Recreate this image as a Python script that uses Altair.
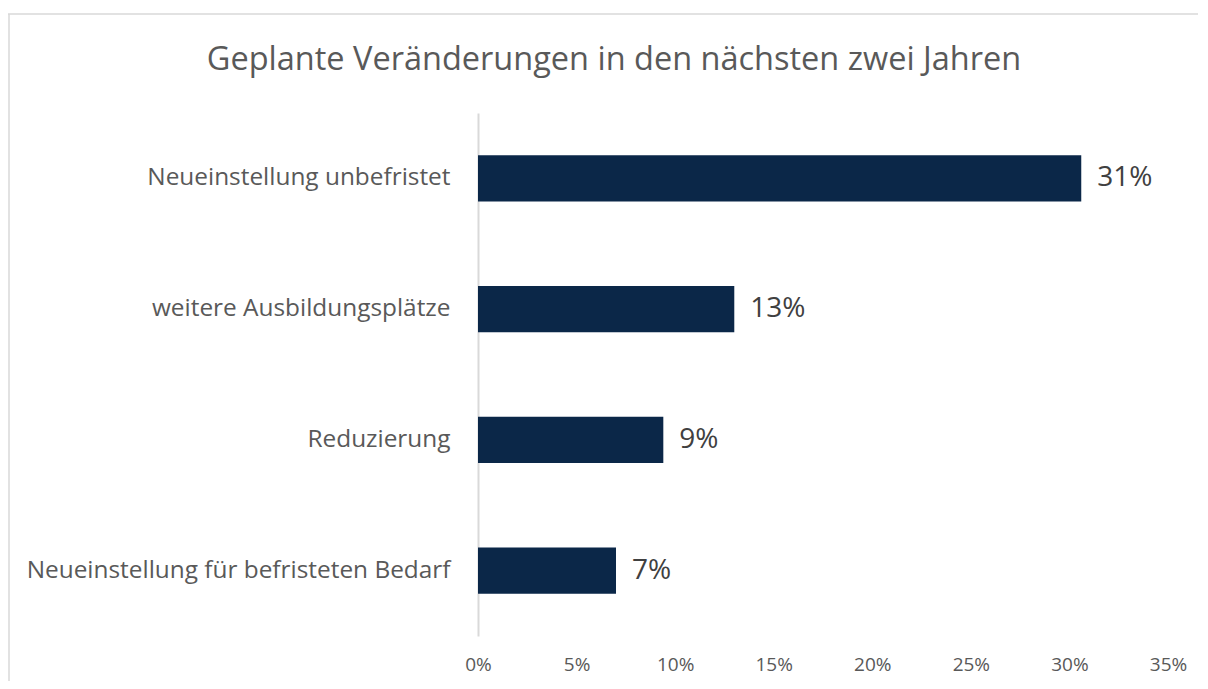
import altair as alt
import pandas as pd

categories = [
    "Neueinstellung unbefristet",
    "weitere Ausbildungsplätze",
    "Reduzierung",
    "Neueinstellung für befristeten Bedarf",
]
values = [0.306, 0.130, 0.094, 0.070]
title_text = ["Geplante Veränderungen in den nächsten zwei Jahren"]
x_ticks = [0, 0.05, 0.10, 0.15, 0.20, 0.25, 0.30, 0.35]

df = pd.DataFrame({"cat": categories, "val": values})
tdf = pd.DataFrame({"t": title_text})

FONT = "Open Sans"
W, H = 690, 523

x_enc = alt.X(
    "val:Q",
    scale=alt.Scale(domain=[0, 0.35], nice=False, zero=True),
    axis=alt.Axis(
        values=x_ticks, format=".0%", title=None, domain=False, ticks=False,
        grid=False, labelFontSize=19, labelColor="#595959", labelFont=FONT,
        labelPadding=19, labelFlush=False,
    ),
)
y_enc = alt.Y(
    "cat:N",
    sort=categories,
    scale=alt.Scale(paddingInner=0.648, paddingOuter=0.324),
    axis=alt.Axis(
        title=None, ticks=False, domain=True, domainColor="#d9d9d9",
        domainWidth=2, labelFontSize=24.4, labelColor="#595959", labelFont=FONT,
        labelPadding=28, labelLimit=600,
    ),
)

bars = alt.Chart(df).mark_bar(color="#0b2748").encode(x=x_enc, y=y_enc)
labels = alt.Chart(df).mark_text(
    align="left", baseline="middle", dx=16, fontSize=28, color="#404040", font=FONT
).encode(x="val:Q", y=alt.Y("cat:N", sort=categories), text=alt.Text("val:Q", format=".0%"))

title = alt.Chart(tdf).mark_text(
    align="center", baseline="middle", fontSize=32.5, color="#595959", font=FONT
).encode(x=alt.value(136), y=alt.value(-53), text="t:N")

border_top = alt.Chart(tdf).mark_rule(color="#d9d9d9", strokeWidth=1.5).encode(
    x=alt.value(-470), x2=alt.value(730), y=alt.value(-99)
)
border_left = alt.Chart(tdf).mark_rule(color="#d9d9d9", strokeWidth=1.5).encode(
    x=alt.value(-469), y=alt.value(-99), y2=alt.value(580)
)

chart = (
    alt.layer(border_top, border_left, title, bars, labels)
    .properties(
        width=W,
        height=H,
        autosize=alt.AutoSizeParams(type="none"),
        padding={"left": 470, "top": 105, "right": 30, "bottom": 45},
        view=alt.ViewBackground(stroke="transparent", strokeWidth=0),
    )
    .configure(background="white")
    .configure_view(stroke="transparent", strokeWidth=0)
)

chart.save("out.html", embed_options={"renderer": "svg", "actions": False})
